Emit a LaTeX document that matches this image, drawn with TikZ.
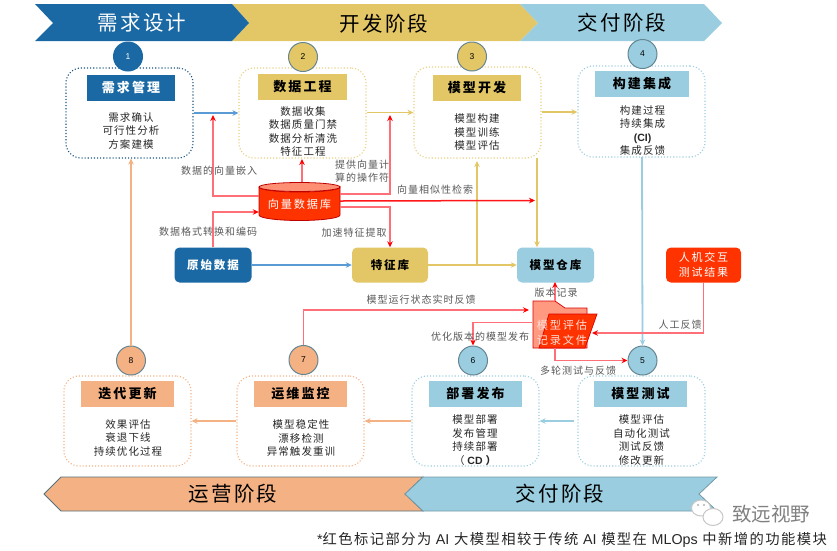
\documentclass[tikz,border=0pt]{standalone}
\usepackage{fontspec}
\usetikzlibrary{arrows.meta,positioning}
\setmainfont{Liberation Sans}
\newfontfamily\cjk{Noto Sans CJK SC}
\newfontfamily\cjks[LetterSpace=10]{Noto Sans CJK SC}
\newfontfamily\cjkw[LetterSpace=16]{Noto Sans CJK SC}
\newcommand{\lat}[1]{{\rmfamily #1}}
\definecolor{cblue}{HTML}{1A69A4}
\definecolor{cline}{HTML}{5B9BD5}
\definecolor{cgold}{HTML}{E3C766}
\definecolor{csky}{HTML}{9ACDDF}
\definecolor{corange}{HTML}{F4B183}
\definecolor{cred}{HTML}{FF3300}
\definecolor{cpink}{HTML}{FF6F78}
\definecolor{cgrey}{HTML}{595959}
\tikzset{
  x=1pt,y=-1pt,
  phase/.style={font=\cjks\fontsize{20.5}{26}\selectfont,text=black,inner sep=0pt},
  stagebox/.style={draw,dotted,line width=1.1pt,rounded corners=15pt,minimum width=127pt,inner sep=0pt},
  titlebox/.style={font=\cjkw\bfseries\fontsize{13}{16}\selectfont,inner sep=0pt,minimum height=26pt,minimum width=90pt},
  bodytext/.style={font=\cjks\fontsize{10.5}{13.5}\selectfont,align=center,text=black!85,inner sep=0pt},
  numdot/.style={circle,minimum size=29pt,inner sep=0pt,draw=#1,line width=1pt,font=\rmfamily\fontsize{8.5}{10}\selectfont},
  lab/.style={font=\cjks\fontsize{10}{13.5}\selectfont,text=cgrey,inner sep=0pt,align=center},
  solidbox/.style={rounded corners=5pt,minimum width=77pt,minimum height=35pt,inner sep=0pt,font=\cjkw\bfseries\fontsize{11.5}{16}\selectfont},
  arrblue/.style={draw=cline,line width=1.8pt,-{Stealth[length=6pt,width=5.5pt]}},
  arrgold/.style={draw=cgold,line width=1.8pt,-{Stealth[length=6pt,width=5.5pt]}},
  arrsky/.style={draw=csky,line width=1.8pt,-{Stealth[length=6pt,width=5.5pt]}},
  arrorange/.style={draw=corange,line width=1.6pt,-{Stealth[length=6pt,width=5.5pt]}},
  arrred/.style={draw=cpink,line width=1.5pt,-{Stealth[length=6pt,width=5.5pt,color=red]}},
}
\begin{document}
\begin{tikzpicture}
\useasboundingbox (0,0) rectangle (837,550);

% ---- top bands
\fill[cgold] (232,4) -- (520,4) -- (538,23) -- (520,41) -- (232,41) -- (249,23) -- cycle;
\fill[csky] (520,4) -- (704,4) -- (722,23) -- (704,41) -- (520,41) -- (538,23) -- cycle;
\fill[cblue] (35,4) -- (232,4) -- (249,23) -- (232,41) -- (35,41) -- (53,23) -- cycle;
\node[phase,text=white] (p1) at (142,23) {需求设计};
\node[phase] (p2) at (384,24) {开发阶段};
\node[phase] (p3) at (622,23) {交付阶段};

% ---- bottom bands
\filldraw[corange,draw=black!45!csky,line width=.8pt] (44,494) -- (61,477) -- (423,477) -- (405,494) -- (423,511) -- (61,511) -- cycle;
\filldraw[csky,draw=black!25!csky,line width=.8pt] (405,494) -- (423,477) -- (717,477) -- (699,494) -- (717,511) -- (423,511) -- cycle;
\node[phase] (p4) at (233,494) {运营阶段};
\node[phase] (p5) at (560,494) {交付阶段};

% ---- stage boxes
\node[stagebox,draw=cblue!80!black,minimum height=90pt] (b1) at (129.5,113) {};
\node[stagebox,draw=cgold!85!white,minimum height=90pt] (b2) at (302.5,113) {};
\node[stagebox,draw=cgold!85!white,minimum height=91pt] (b3) at (477.5,112.5) {};
\node[stagebox,draw=csky,minimum height=91pt] (b4) at (641.5,111.5) {};
\node[stagebox,draw=csky,minimum height=90pt] (b5) at (641.5,421) {};
\node[stagebox,draw=csky,minimum height=90pt] (b6) at (475.5,421) {};
\node[stagebox,draw=corange,minimum height=90pt] (b7) at (300.5,421) {};
\node[stagebox,draw=corange,minimum height=90pt] (b8) at (127.5,421) {};

% ---- titles
\node[titlebox,fill=cblue,text=white,minimum width=88pt] (t1) at (131,88) {需求管理};
\node[titlebox,fill=cgold,minimum width=89pt] (t2) at (302.5,86.5) {数据工程};
\node[titlebox,fill=cgold,minimum width=88pt] (t3) at (477,88) {模型开发};
\node[titlebox,fill=csky,minimum width=94pt] (t4) at (642,84) {构建集成};
\node[titlebox,fill=csky,minimum width=93pt] (t5) at (640.5,393.5) {模型测试};
\node[titlebox,fill=csky,minimum width=93pt] (t6) at (475.5,393.5) {部署发布};
\node[titlebox,fill=corange,minimum width=93pt] (t7) at (300.5,393.5) {运维监控};
\node[titlebox,fill=corange,minimum width=93pt] (t8) at (127.5,393.5) {迭代更新};

% ---- body texts
\node[bodytext] (x1) at (131,130.5) {需求确认\\可行性分析\\方案建模};
\node[bodytext] (x2) at (303,131.5) {数据收集\\数据质量门禁\\数据分析清洗\\特征工程};
\node[bodytext] (x3) at (477,132.5) {模型构建\\模型训练\\模型评估};
\node[bodytext] (x4) at (642.5,130.5) {构建过程\\持续集成\\{\rmfamily\bfseries (CI)}\\集成反馈};
\node[bodytext] (x5) at (641.5,440) {模型评估\\自动化测试\\测试反馈\\修改更新};
\node[bodytext] (x6) at (475,440) {模型部署\\发布管理\\持续部署\\{（\rmfamily\bfseries{} CD \cjks）}};
\node[bodytext] (x7) at (301,438) {模型稳定性\\漂移检测\\异常触发重训};
\node[bodytext] (x8) at (128,438) {效果评估\\衰退下线\\持续优化过程};

% ---- numbered circles
\node[numdot=cblue,fill=cblue,text=white] (n1) at (128,56.5) {1};
\node[numdot=black!35!csky,fill=cgold] (n2) at (303,57) {2};
\node[numdot=black!35!csky,fill=cgold] (n3) at (472,56.5) {3};
\node[numdot=black!35!csky,fill=csky] (n4) at (642.5,54) {4};
\node[numdot=black!35!csky,fill=csky] (n5) at (642.5,360.5) {5};
\node[numdot=black!35!csky,fill=csky] (n6) at (473,360.5) {6};
\node[numdot=black!35!csky,fill=corange] (n7) at (303.5,360) {7};
\node[numdot=black!35!csky,fill=corange] (n8) at (131,360.5) {8};

% ---- solid boxes
\node[solidbox,fill=cblue,text=white] (raw) at (213,265) {原始数据};
\node[solidbox,fill=cgold,minimum width=76pt] (feat) at (390,265) {特征库};
\node[solidbox,fill=csky] (repo) at (555.5,265) {模型仓库};
\node[solidbox,fill=cred,text=white,minimum width=75pt,align=center,font=\cjkw\fontsize{11}{15.5}\selectfont] (hci) at (703.5,265) {人机交互\\测试结果};

% ---- vector database (cylinder)
\filldraw[fill=cred,draw=red!75!black,line width=.8pt] (259,187) -- (259,215) arc[start angle=180,end angle=360,x radius=40.5pt,y radius=5.5pt] -- (340,187) arc[start angle=0,end angle=180,x radius=40.5pt,y radius=-5pt];
\filldraw[fill=cred!55!white,draw=red!75!black,line width=.8pt] (299.5,187) ellipse[x radius=40.5pt,y radius=4.5pt];
\node[inner sep=0pt,minimum width=81pt,minimum height=38pt,text=white,font=\cjkw\fontsize{11.2}{15}\selectfont] (db) at (299.5,204) {向量数据库};

% ---- folder
\filldraw[fill=cred!50!white,draw=red!85!black,line width=.7pt] (533,301) -- (555,301) -- (565,308) -- (587,308) -- (587,348) -- (533,348) -- cycle;
\filldraw[fill=cred,draw=red!85!black,line width=.7pt] (549,314) -- (597,314) -- (585,348) -- (539,348) -- cycle;
\node[inner sep=0pt,text=white!85!cred,align=center,minimum width=64pt,minimum height=47pt,font=\cjkw\fontsize{11.2}{15}\selectfont] (doc) at (562,332.5) {模型评估\\记录文件};

% ---- coordinates of free ends
\coordinate (ra) at (213,115);
\coordinate (rb) at (390,115);
\coordinate (rc) at (535,200.5);
\coordinate (gb) at (477,265);
\coordinate (gc) at (477,161);
\coordinate (g3) at (537,158);
\coordinate (hi) at (592,333);
\coordinate (sevt) at (529,310);
\coordinate (f5) at (555,360.5);

% ---- main flow
\draw[arrblue] (b1.east |- 0,113) -- (b2.west |- 0,113);
\draw[arrgold] (b2.east |- 0,112.5) -- (b3.west |- 0,112.5);
\draw[arrgold] (b3.east |- 0,112) -- (b4.west |- 0,112);
\draw[arrsky] (642,157) -- (n4 |- n5.north);
\draw[arrsky] (b5.west) ++(-3,0) -- (b6.east);
\draw[arrorange] (b6.west) -- (b7.east);
\draw[arrorange] (b7.west) -- (b8.east);
\draw[arrorange] (n8.north) -- (n8 |- b1.south);
\draw[arrblue] (raw.east) -- (feat.west);
\draw[arrgold] (feat.east) -- (repo.west);
\draw[draw=cgold,line width=1.1pt,-{Stealth[length=6pt,width=5.5pt]}] (gb) -- (gc);
\draw[arrgold] (g3) -- (g3 |- repo.north);

% ---- red links
\draw[arrred] (db.west |- 0,196) -| (ra);
\draw[arrred] (302,182) -- (302,159);
\draw[arrred] (db.east |- 0,194) -| (rb);
\draw[arrred,draw=red!80!cpink] (db.east |- 0,201) -- (rc);
\draw[arrred] (db.east |- 0,207) -| (feat.north);
\draw[arrred] (raw.north) |- (db.west |- 0,212);
\draw[arrred] (555,301) -- (555,282);
\draw[arrred] (n7.north) |- (sevt);
\draw[arrred] (532,322.5) -| (n6.north);
\draw[arrred] (f5) ++(0,-12.5) -- (f5) -- (n5.west);
\draw[arrred] (hci.south) |- (hi);

% ---- link labels
\node[lab] (l1) at (219,171) {数据的向量嵌入};
\node[lab] (l2) at (362,171) {提供向量计\\算的操作符};
\node[lab] (l3) at (435,190) {向量相似性检索};
\node[lab] (l4) at (208,232) {数据格式转换和编码};
\node[lab] (l5) at (354,233) {加速特征提取};
\node[lab] (l6) at (421,299.5) {模型运行状态实时反馈};
\node[lab] (l7) at (556,293) {版本记录};
\node[lab] (l8) at (480,336.5) {优化版本的模型发布};
\node[lab] (l9) at (680,325) {人工反馈};
\node[lab] (l10) at (578,371) {多轮测试与反馈};

% ---- watermark
\filldraw[fill=white,draw=black!22,line width=1pt] (701,508) ellipse[x radius=9.5pt,y radius=8pt];
\filldraw[fill=white,draw=black!22,line width=1pt] (713,517) ellipse[x radius=10pt,y radius=8.5pt];
\fill[black!30] (698,505) circle (1.2pt) (704,505) circle (1.2pt);
\node[inner sep=0pt,text=black!50,font=\cjk\fontsize{19.5}{20}\selectfont] (wm) at (771,514) {致远视野};

% ---- footnote
\node[inner sep=0pt,anchor=east,text=black!85,font=\cjks\fontsize{14.3}{16}\selectfont] (fn) at (827,540) {\lat{*}红色标记部分为 \lat{AI} 大模型相较于传统 \lat{AI} 模型在 \lat{MLOps} 中新增的功能模块};
\end{tikzpicture}
\end{document}
